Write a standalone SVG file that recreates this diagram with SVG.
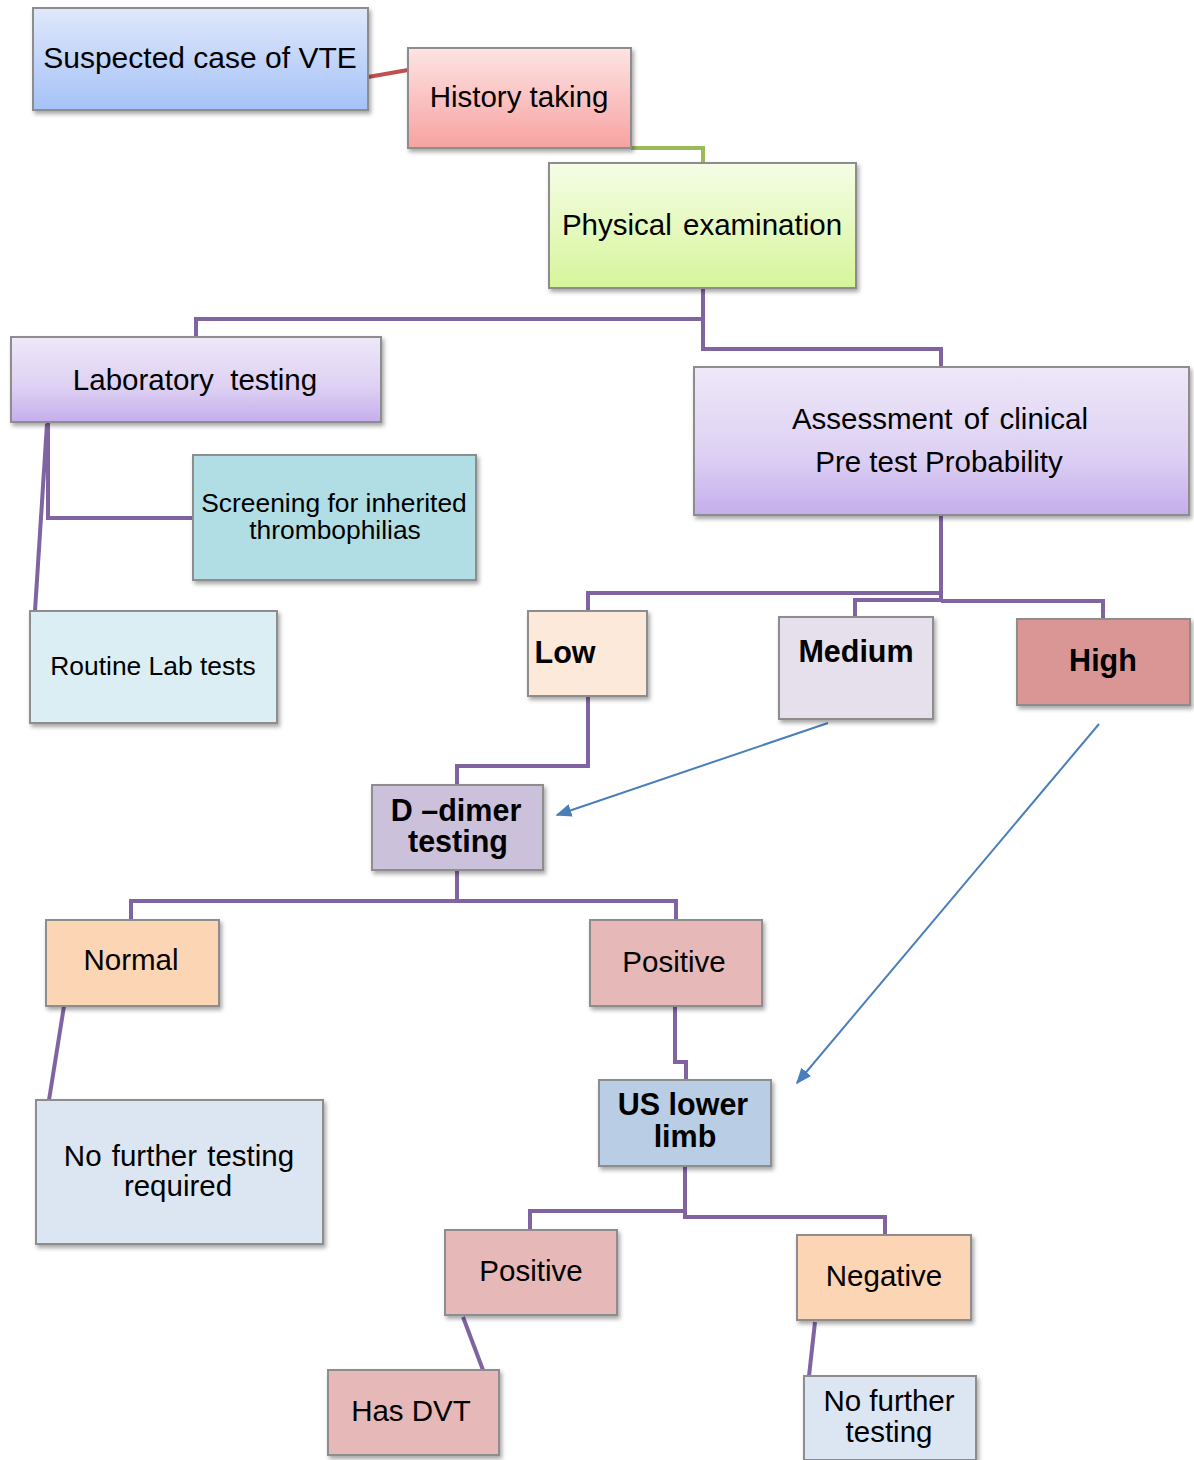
<svg xmlns="http://www.w3.org/2000/svg" width="1194" height="1460" viewBox="0 0 1194 1460">
<defs>
<linearGradient id="gBlue" x1="0" y1="0" x2="0" y2="1"><stop offset="0" stop-color="#e0e8fb"/><stop offset="1" stop-color="#a5c2f7"/></linearGradient>
<linearGradient id="gRed" x1="0" y1="0" x2="0" y2="1"><stop offset="0" stop-color="#fde4e3"/><stop offset="1" stop-color="#f7a2a1"/></linearGradient>
<linearGradient id="gGreen" x1="0" y1="0" x2="0" y2="1"><stop offset="0" stop-color="#f5fde6"/><stop offset="1" stop-color="#d6f59a"/></linearGradient>
<linearGradient id="gPurple" x1="0" y1="0" x2="0" y2="1"><stop offset="0" stop-color="#eee8f8"/><stop offset="0.6" stop-color="#ddd0f3"/><stop offset="1" stop-color="#c4aeec"/></linearGradient>
<filter id="sh" x="-10%" y="-10%" width="130%" height="140%"><feDropShadow dx="2" dy="3" stdDeviation="2" flood-color="#000" flood-opacity="0.35"/></filter>
<marker id="arrB" viewBox="0 0 10 10" refX="9" refY="5" markerWidth="16" markerHeight="16" markerUnits="userSpaceOnUse" orient="auto"><path d="M0,1 L10,5 L0,9 z" fill="#4a7ebb"/></marker>
</defs>
<style>
.box{stroke:#8d8d8d;stroke-width:2;filter:url(#sh)}
.t{font-family:"Liberation Sans",Arial,sans-serif;font-size:29.5px;fill:#000;text-anchor:middle}
.b{font-weight:bold;font-size:30.5px}
.p{fill:none;stroke:#8064a2;stroke-width:4}
.arrow{fill:none;stroke:#4a7ebb;stroke-width:2}
</style>
<rect width="1194" height="1460" fill="#ffffff"/>
<g id="connectors">
<line x1="368" y1="77" x2="408" y2="70" stroke="#c0504d" stroke-width="4"/>
<polyline points="631,148 703,148 703,163" fill="none" stroke="#9bbb59" stroke-width="4"/>
<polyline class="p" points="703,288 703,319 196,319 196,337"/>
<polyline class="p" points="703,319 703,349 941,349 941,367"/>
<polyline class="p" points="48,422 48,518 193,518"/>
<line class="p" x1="47" y1="424" x2="35" y2="611"/>
<polyline class="p" points="941,515 941,600"/>
<polyline class="p" points="941,593 588,593 588,611"/>
<polyline class="p" points="941,600 855,600 855,617"/>
<polyline class="p" points="941,601 1103,601 1103,619"/>
<polyline class="p" points="588,696 588,766 457,766 457,785"/>
<line class="arrow" x1="828" y1="723" x2="557" y2="815" marker-end="url(#arrB)"/>
<line class="arrow" x1="1099" y1="724" x2="797" y2="1083" marker-end="url(#arrB)"/>
<polyline class="p" points="457,870 457,901 131,901 131,920"/>
<polyline class="p" points="457,901 676,901 676,920"/>
<line class="p" x1="64" y1="1006" x2="49" y2="1100"/>
<polyline class="p" points="675,1006 675,1062 686,1062 686,1080"/>
<polyline class="p" points="685,1166 685,1211 530,1211 530,1230"/>
<polyline class="p" points="685,1211 685,1217 885,1217 885,1235"/>
<line class="p" x1="463" y1="1317" x2="483" y2="1370"/>
<line class="p" x1="815" y1="1322" x2="809" y2="1376"/>
</g>
<g id="n-suspected"><rect class="box" x="33" y="8" width="335" height="102" fill="url(#gBlue)"/><text class="t" x="200" y="68" style="font-size:30px">Suspected case of VTE</text></g>
<g id="n-history"><rect class="box" x="408" y="48" width="223" height="100" fill="url(#gRed)"/><text class="t" x="519" y="107">History taking</text></g>
<g id="n-physical"><rect class="box" x="549" y="163" width="307" height="125" fill="url(#gGreen)"/><text class="t" x="702" y="235" word-spacing="3">Physical examination</text></g>
<g id="n-lab"><rect class="box" x="11" y="337" width="370" height="85" fill="url(#gPurple)"/><text class="t" x="195" y="390" xml:space="preserve">Laboratory  testing</text></g>
<g id="n-assess"><rect class="box" x="694" y="367" width="495" height="148" fill="url(#gPurple)"/><text class="t" x="940" y="429" word-spacing="3">Assessment of clinical</text><text class="t" x="939" y="472">Pre test Probability</text></g>
<g id="n-screening"><rect class="box" x="193" y="455" width="283" height="125" fill="#b1dde5"/><text class="t" x="334" y="512" style="font-size:26.4px">Screening for inherited</text><text class="t" x="335" y="539" style="font-size:26.4px">thrombophilias</text></g>
<g id="n-routine"><rect class="box" x="30" y="611" width="247" height="112" fill="#dbeef3"/><text class="t" x="153" y="675" style="font-size:26.4px">Routine Lab tests</text></g>
<g id="n-low"><rect class="box" x="528" y="611" width="119" height="85" fill="#fde9d9"/><text class="t b" x="565" y="663">Low</text></g>
<g id="n-medium"><rect class="box" x="779" y="617" width="154" height="102" fill="#e5e0ec"/><text class="t b" x="856" y="662">Medium</text></g>
<g id="n-high"><rect class="box" x="1017" y="619" width="173" height="86" fill="#d99694"/><text class="t b" x="1103" y="671">High</text></g>
<g id="n-ddimer"><rect class="box" x="372" y="785" width="171" height="85" fill="#ccc1da"/><text class="t b" x="456" y="821">D –dimer</text><text class="t b" x="458" y="852">testing</text></g>
<g id="n-normal"><rect class="box" x="46" y="920" width="173" height="86" fill="#fcd5b5"/><text class="t" x="131" y="970">Normal</text></g>
<g id="n-positive1"><rect class="box" x="590" y="920" width="172" height="86" fill="#e6b9b8"/><text class="t" x="674" y="972">Positive</text></g>
<g id="n-nofurther1"><rect class="box" x="36" y="1100" width="287" height="144" fill="#dce6f2"/><text class="t" x="179" y="1166" word-spacing="2">No further testing</text><text class="t" x="178" y="1196">required</text></g>
<g id="n-us"><rect class="box" x="599" y="1080" width="172" height="86" fill="#b9cde5"/><text class="t b" x="683" y="1115">US lower</text><text class="t b" x="685" y="1147">limb</text></g>
<g id="n-positive2"><rect class="box" x="445" y="1230" width="172" height="85" fill="#e6b9b8"/><text class="t" x="531" y="1281">Positive</text></g>
<g id="n-negative"><rect class="box" x="797" y="1235" width="174" height="85" fill="#fcd5b5"/><text class="t" x="884" y="1286">Negative</text></g>
<g id="n-hasdvt"><rect class="box" x="328" y="1370" width="171" height="85" fill="#e6b9b8"/><text class="t" x="411" y="1421">Has DVT</text></g>
<g id="n-nofurther2"><rect class="box" x="804" y="1376" width="172" height="84" fill="#dce6f2"/><text class="t" x="889" y="1411">No further</text><text class="t" x="889" y="1442">testing</text></g>
</svg>
